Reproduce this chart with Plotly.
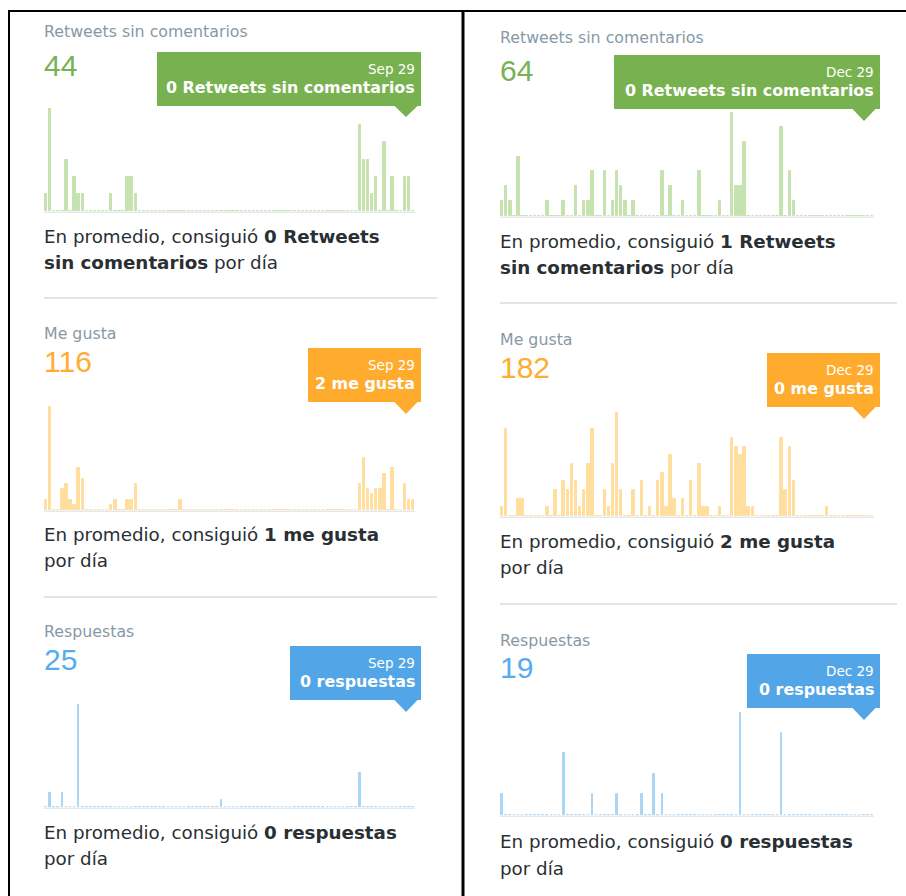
import plotly.graph_objects as go

# ---------------- data (daily counts, 91 days per period) ----------------
days = list(range(91))

rt_sep = ([1, 6, 0, 0, 0, 3, 0, 2, 1, 1] + [0, 0, 0, 0, 0, 0, 1, 0, 0, 0] +
          [2, 2, 1, 0, 0, 0, 0, 0, 0, 0] + [0] * 40 +
          [0, 0, 0, 0, 0, 0, 0, 5, 3, 3] + [1, 2, 0, 4, 0, 2, 0, 0, 2, 2] + [0])
likes_sep = ([2, 20, 0, 0, 4, 5, 2, 1, 8, 6] + [0, 0, 0, 0, 0, 0, 1, 2, 0, 0] +
             [2, 2, 5, 0, 0, 0, 0, 0, 0, 0] + [0, 0, 0, 2, 0, 0, 0, 0, 0, 0] + [0] * 30 +
             [0, 0, 0, 0, 0, 0, 0, 5, 10, 4] + [3, 4, 4, 7, 0, 8, 0, 0, 5, 2] + [2])
replies_sep = ([0, 2, 0, 0, 2, 0, 0, 0, 15, 0] + [0] * 30 +
               [0, 0, 0, 1, 0, 0, 0, 0, 0, 0] + [0] * 20 +
               [0, 0, 0, 0, 0, 0, 0, 5, 0, 0] + [0] * 10 + [0])

rt_dec = ([1, 2, 1, 0, 4, 0, 0, 0, 0, 0] + [0, 1, 0, 0, 0, 1, 0, 0, 2, 0] +
          [1, 1, 3, 0, 0, 3, 0, 1, 3, 2] + [1, 0, 1, 0, 0, 0, 0, 0, 0, 3] +
          [0, 2, 0, 0, 1, 0, 0, 0, 3, 0] + [0, 0, 0, 1, 0, 0, 7, 2, 2, 5] +
          [0, 0, 0, 0, 0, 0, 0, 0, 6, 0] + [3, 1, 0, 0, 0, 0, 0, 0, 0, 0] + [0] * 10 + [0])
likes_dec = ([1, 10, 0, 0, 2, 2, 0, 0, 0, 0] + [0, 1, 0, 3, 0, 4, 3, 6, 4, 1] +
             [3, 6, 10, 0, 0, 3, 1, 6, 12, 3] + [0, 0, 3, 0, 4, 0, 1, 0, 4, 5] +
             [1, 7, 2, 0, 2, 0, 4, 0, 6, 1] + [1, 0, 0, 1, 0, 0, 9, 8, 7, 8] +
             [1, 1, 0, 0, 0, 0, 0, 0, 9, 3] + [8, 4, 0, 0, 0, 0, 0, 0, 0, 1] + [0] * 10 + [0])
replies_dec = ([1, 0, 0, 0, 0, 0, 0, 0, 0, 0] + [0, 0, 0, 0, 0, 3, 0, 0, 0, 0] +
               [0, 0, 1, 0, 0, 0, 0, 0, 1, 0] + [0, 0, 0, 0, 1, 0, 0, 2, 0, 1] +
               [0] * 10 + [0, 0, 0, 0, 0, 0, 0, 0, 5, 0] +
               [0, 0, 0, 0, 0, 0, 0, 0, 4, 0] + [0] * 20 + [0])

metric_titles = ["Retweets sin comentarios", "Me gusta", "Respuestas"]
last_days = ["Sep 29", "Dec 29"]

# ---------------- layout helpers ----------------
W, H = 906, 896


def px(x):
    return x / W


def py(y):
    return 1 - y / H


GREEN_BAR, ORANGE_BAR, BLUE_BAR = "#c6e2ae", "#ffdea0", "#a9d5f6"
GREEN, ORANGE, BLUE = "#78b250", "#ffab2e", "#52a6e7"
NUM_GREEN, NUM_ORANGE, NUM_BLUE = "#77b255", "#ffac33", "#55acee"
TITLE_C, TEXT_C, SEP_C, BASE_C = "#8899a6", "#292f33", "#d5dde4", "#e3e8ec"
TXT_FONT = "DejaVu Sans"
NUM_FONT = "Liberation Sans"

panels = [
    # left column (Sep)
    dict(vals=rt_sep, metric=0, date=0, x0=44, x1=415, top=108, bot=211, bar=GREEN_BAR, col=GREEN, num=NUM_GREEN,
         bw=0.6, ty=31, ny=65, box=(157, 421, 52, 106), tip=(394, 418, 406, 117), cy=(236, 262),
         unit="Retweets sin comentarios", split=True, sep=298, sx=(44, 437)),
    dict(vals=likes_sep, metric=1, date=0, x0=44, x1=415, top=406, bot=510, bar=ORANGE_BAR, col=ORANGE, num=NUM_ORANGE,
         bw=0.6, ty=333, ny=361, box=(308, 421, 348, 402), tip=(394, 418, 406, 414), cy=(534, 560),
         unit="me gusta", split=False, sep=597, sx=(44, 437)),
    dict(vals=replies_sep, metric=2, date=0, x0=44, x1=415, top=704, bot=807, bar=BLUE_BAR, col=BLUE, num=NUM_BLUE,
         bw=0.4, ty=631, ny=659, box=(290, 421, 646, 700), tip=(394, 418, 406, 712), cy=(832, 858),
         unit="respuestas", split=False, sep=None, sx=None),
    # right column (Dec)
    dict(vals=rt_dec, metric=0, date=1, x0=500, x1=874, top=112, bot=216, bar=GREEN_BAR, col=GREEN, num=NUM_GREEN,
         bw=0.6, ty=37, ny=70, box=(614, 880, 55, 109), tip=(852, 876, 864, 121), cy=(241, 267),
         unit="Retweets sin comentarios", split=True, sep=303, sx=(500, 897)),
    dict(vals=likes_dec, metric=1, date=1, x0=500, x1=874, top=412, bot=516, bar=ORANGE_BAR, col=ORANGE, num=NUM_ORANGE,
         bw=0.6, ty=339, ny=367, box=(767, 880, 353, 407), tip=(852, 876, 864, 419), cy=(541, 567),
         unit="me gusta", split=False, sep=604, sx=(500, 897)),
    dict(vals=replies_dec, metric=2, date=1, x0=500, x1=874, top=712, bot=815, bar=BLUE_BAR, col=BLUE, num=NUM_BLUE,
         bw=0.4, ty=640, ny=667, box=(747, 880, 654, 708), tip=(852, 876, 864, 720), cy=(841, 868),
         unit="respuestas", split=False, sep=None, sx=None),
]

fig = go.Figure()
shapes, annos = [], []
layout_axes = {}

for i, p in enumerate(panels, start=1):
    sfx = "" if i == 1 else str(i)
    vals = p["vals"]
    fig.add_trace(go.Bar(
        x=days, y=vals, width=p["bw"], xaxis="x" + sfx, yaxis="y" + sfx,
        marker=dict(color=p["bar"], line=dict(color=p["bar"], width=1)),
        hoverinfo="skip", showlegend=False,
    ))
    layout_axes["xaxis" + sfx] = dict(domain=[px(p["x0"]), px(p["x1"])], range=[-0.5, len(days) - 0.5],
                                      visible=False, anchor="y" + sfx, fixedrange=True)
    layout_axes["yaxis" + sfx] = dict(domain=[py(p["bot"]), py(p["top"])], range=[0, max(vals)],
                                      visible=False, anchor="x" + sfx, fixedrange=True)

    # baseline
    shapes.append(dict(type="line", xref="paper", yref="paper", x0=px(p["x0"]), x1=px(p["x1"]),
                       y0=py(p["bot"] + 1.2), y1=py(p["bot"] + 1.2), line=dict(color=BASE_C, width=1.5)))
    # title and total
    tx = p["x0"]
    annos.append(dict(x=px(tx - 2), y=py(p["ty"]), text=metric_titles[p["metric"]], xanchor="left", yanchor="middle",
                      font=dict(family=TXT_FONT, size=15.8, color=TITLE_C)))
    annos.append(dict(x=px(tx - 2.5), y=py(p["ny"]), text=str(sum(vals)), xanchor="left", yanchor="middle",
                      font=dict(family=NUM_FONT, size=30, color=p["num"])))
    # tooltip
    bx0, bx1, by0, by1 = p["box"]
    shapes.append(dict(type="rect", xref="paper", yref="paper", x0=px(bx0), x1=px(bx1), y0=py(by1), y1=py(by0),
                       fillcolor=p["col"], line=dict(width=0), layer="above"))
    ax0, ax1, atx, aty = p["tip"]
    shapes.append(dict(type="path", xref="paper", yref="paper",
                       path=f"M {px(ax0)},{py(by1 - 0.5)} L {px(ax1)},{py(by1 - 0.5)} L {px(atx)},{py(aty)} Z",
                       fillcolor=p["col"], line=dict(width=0), layer="above"))
    annos.append(dict(x=px(bx1 - 4.5), y=py(by0 + 17), text=last_days[p["date"]], xanchor="right", yanchor="middle",
                      font=dict(family=TXT_FONT, size=13.5, color="white")))
    annos.append(dict(x=px(bx1 - 4.5), y=py(by0 + 35.5), text=f"<b>{vals[-1]} {p['unit']}</b>", xanchor="right",
                      yanchor="middle", font=dict(family=TXT_FONT, size=15.9, color="white")))
    # caption
    avg = round(sum(vals) / len(vals))
    if p["split"]:
        l1 = f"En promedio, consiguió <b>{avg} Retweets</b>"
        l2 = "<b>sin comentarios</b> por día"
    else:
        l1 = f"En promedio, consiguió <b>{avg} {p['unit']}</b>"
        l2 = "por día"
    for yy, t in zip(p["cy"], (l1, l2)):
        annos.append(dict(x=px(tx - 2), y=py(yy), text=t, xanchor="left", yanchor="middle",
                          font=dict(family=TXT_FONT, size=18.3, color=TEXT_C)))
    # separator
    if p["sep"] is not None:
        shapes.append(dict(type="line", xref="paper", yref="paper", x0=px(p["sx"][0]), x1=px(p["sx"][1]),
                           y0=py(p["sep"]), y1=py(p["sep"]), line=dict(color=SEP_C, width=1.5)))

# frame lines
shapes.append(dict(type="line", xref="paper", yref="paper", x0=px(8), x1=px(906), y0=py(11), y1=py(11),
                   line=dict(color="black", width=2)))
shapes.append(dict(type="line", xref="paper", yref="paper", x0=px(9), x1=px(9), y0=py(10), y1=py(896),
                   line=dict(color="black", width=2)))
shapes.append(dict(type="line", xref="paper", yref="paper", x0=px(463), x1=px(463), y0=py(10), y1=py(896),
                   line=dict(color="black", width=3)))

for a in annos:
    a.update(xref="paper", yref="paper", showarrow=False)

fig.update_layout(
    width=W, height=H, margin=dict(l=0, r=0, t=0, b=0),
    paper_bgcolor="white", plot_bgcolor="white",
    shapes=shapes, annotations=annos, showlegend=False, bargap=0,
    **layout_axes,
)

fig.write_html("out.html", config={"displayModeBar": False},
               post_script="document.body.style.margin='0';document.body.style.overflow='hidden';")
